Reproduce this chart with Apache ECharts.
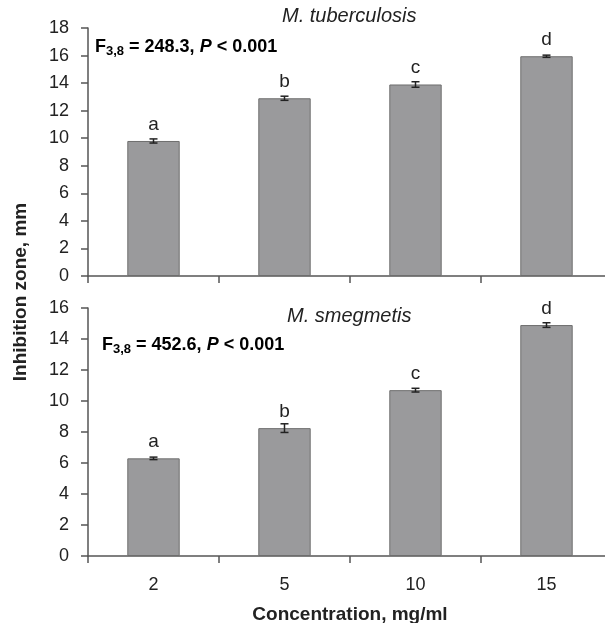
<!DOCTYPE html>
<html>
<head>
<meta charset="utf-8">
<script src="https://cdn.jsdelivr.net/npm/echarts@6/dist/echarts.min.js"></script>
<style>
  html, body { margin: 0; padding: 0; background: #fff; }
  #chart { width: 605px; height: 623px; }
</style>
</head>
<body>
<div id="chart"></div>
<script>
// 浓度类别
var categories = ['2', '5', '10', '15'];
// M. tuberculosis
var tbValues = [9.8, 12.9, 13.9, 15.95];
var tbErrors = [0.15, 0.15, 0.2, 0.08];
var tbLetters = ['a', 'b', 'c', 'd'];
// M. smegmetis
var smValues = [6.3, 8.25, 10.7, 14.9];
var smErrors = [0.08, 0.28, 0.12, 0.15];
var smLetters = ['a', 'b', 'c', 'd'];

var font = 'Liberation Sans, Arial, sans-serif';
var axisColor = '#555';

function errData(vals, errs) {
  return vals.map(function (v, i) { return [i, v, errs[i]]; });
}

function renderErr(params, api) {
  var x = api.value(0), y = api.value(1), e = api.value(2);
  var hi = api.coord([x, y + e]);
  var lo = api.coord([x, y - e]);
  var w = 4;
  var st = { stroke: '#222', lineWidth: 1.5 };
  return {
    type: 'group',
    children: [
      { type: 'line', shape: { x1: hi[0], y1: hi[1], x2: lo[0], y2: lo[1] }, style: st },
      { type: 'line', shape: { x1: hi[0] - w, y1: hi[1], x2: hi[0] + w, y2: hi[1] }, style: st },
      { type: 'line', shape: { x1: lo[0] - w, y1: lo[1], x2: lo[0] + w, y2: lo[1] }, style: st }
    ]
  };
}

function xAxisCfg(idx, showLabel) {
  return {
    type: 'category',
    gridIndex: idx,
    data: categories,
    boundaryGap: true,
    axisLine: { lineStyle: { color: axisColor, width: 1.5 } },
    axisTick: { show: true, length: 7, inside: false, lineStyle: { color: axisColor, width: 1.5 } },
    axisLabel: { show: showLabel, color: '#222', fontSize: 18, fontFamily: font, margin: 20 },
    name: showLabel ? 'Concentration, mg/ml' : '',
    nameLocation: 'middle',
    nameGap: 49,
    nameTextStyle: { color: '#222', fontSize: 19, fontWeight: 'bold', fontFamily: font }
  };
}

function yAxisCfg(idx, max) {
  return {
    type: 'value',
    gridIndex: idx,
    min: 0,
    max: max,
    interval: 2,
    splitLine: { show: false },
    axisLine: { show: true, lineStyle: { color: axisColor, width: 1.5 } },
    axisTick: { show: true, length: 7, lineStyle: { color: axisColor, width: 1.5 } },
    axisLabel: { color: '#222', fontSize: 18, fontFamily: font, margin: 19 }
  };
}

function barSeries(idx, vals, letters) {
  return {
    type: 'bar',
    xAxisIndex: idx,
    yAxisIndex: idx,
    data: vals,
    barWidth: '40%',
    itemStyle: { color: '#9a9a9c', borderColor: '#6e6e6e', borderWidth: 1 },
    label: {
      show: true,
      position: 'top',
      distance: 7,
      color: '#222',
      fontSize: 19,
      fontFamily: font,
      formatter: function (p) { return letters[p.dataIndex]; }
    },
    animation: false
  };
}

function errSeries(idx, vals, errs) {
  return {
    type: 'custom',
    xAxisIndex: idx,
    yAxisIndex: idx,
    data: errData(vals, errs),
    encode: { x: 0, y: 1 },
    renderItem: renderErr,
    z: 5,
    animation: false
  };
}

var statRich = {
  f: { fontSize: 18, fontWeight: 'bold', fontFamily: font, color: '#222' },
  s: { fontSize: 13, fontWeight: 'bold', fontFamily: font, color: '#222', padding: [9, 0, 0, 0] },
  i: { fontSize: 18, fontWeight: 'bold', fontStyle: 'italic', fontFamily: font, color: '#222' }
};

var myChart = echarts.init(document.getElementById('chart'));
myChart.setOption({
  backgroundColor: '#fff',
  animation: false,
  grid: [
    { left: 88, top: 28, width: 524, height: 248, outerBoundsMode: 'none', containLabel: false },
    { left: 88, top: 308, width: 524, height: 248, outerBoundsMode: 'none', containLabel: false }
  ],
  xAxis: [xAxisCfg(0, false), xAxisCfg(1, true)],
  yAxis: [yAxisCfg(0, 18), yAxisCfg(1, 16)],
  graphic: [
    {
      type: 'text', left: 282, top: 6,
      style: { text: 'M. tuberculosis', fontSize: 20, fontStyle: 'italic', fontFamily: font, fill: '#222' }
    },
    {
      type: 'text', left: 287, top: 306,
      style: { text: 'M. smegmetis', fontSize: 20, fontStyle: 'italic', fontFamily: font, fill: '#222' }
    },
    {
      type: 'text', left: 95, top: 38,
      style: { text: '{f|F}{s|3,8}{f| = 248.3, }{i|P}{f| < 0.001}', rich: statRich }
    },
    {
      type: 'text', left: 102, top: 336,
      style: { text: '{f|F}{s|3,8}{f| = 452.6, }{i|P}{f| < 0.001}', rich: statRich }
    },
    {
      type: 'text', x: 21, y: 292, rotation: Math.PI / 2,
      style: {
        text: 'Inhibition zone, mm', fontSize: 19, fontWeight: 'bold', fontFamily: font,
        fill: '#222', align: 'center', verticalAlign: 'middle'
      }
    }
  ],
  series: [
    barSeries(0, tbValues, tbLetters),
    errSeries(0, tbValues, tbErrors),
    barSeries(1, smValues, smLetters),
    errSeries(1, smValues, smErrors)
  ]
});
</script>
</body>
</html>
